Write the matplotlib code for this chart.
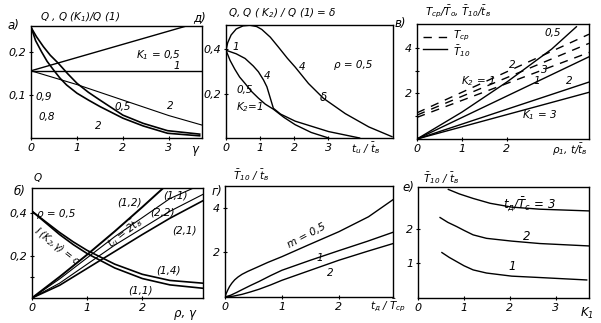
import numpy as np
import matplotlib
matplotlib.use("Agg")
import matplotlib.pyplot as plt

plt.rcParams["font.family"] = ["DejaVu Sans"]
plt.rcParams["font.style"] = "italic"
plt.rcParams["mathtext.fontset"] = "dejavusans"
plt.rcParams["mathtext.default"] = "it"
plt.rcParams["font.size"] = 7.5

W, H = 601, 323

# --- panel a: Q, Q(K1)/Q(1) vs gamma ---
a_rise_x = [0, 3.35]
a_rise_y = [0.156, 0.259]
a_flat_x = [0, 3.72]
a_flat_y = [0.156, 0.156]
a_fall_x = [0, 1.0, 2.0, 3.0, 3.72]
a_fall_y = [0.156, 0.124, 0.088, 0.052, 0.03]
a_c05_x = [0.01, 0.12, 0.27, 0.42, 0.59, 0.8, 1.0, 1.25, 1.5, 2.0, 2.44, 2.97, 3.67]
a_c05_y = [0.255, 0.235, 0.212, 0.192, 0.174, 0.149, 0.127, 0.106, 0.088, 0.053, 0.034, 0.017, 0.009]
a_c2_x = [0.01, 0.1, 0.23, 0.35, 0.49, 0.63, 0.775, 1.0, 1.25, 1.5, 2.0, 2.44, 2.97, 3.67]
a_c2_y = [0.255, 0.226, 0.20, 0.178, 0.158, 0.139, 0.123, 0.104, 0.088, 0.073, 0.046, 0.028, 0.011, 0.005]

# --- panel d: Q, Q(K2)/Q(1) = delta vs t_u/t_v ---
d_delta_x = [0, 0.05, 0.15, 0.3, 0.5, 0.7, 0.9, 1.05, 1.3, 1.54, 1.8, 2.03, 2.42, 2.86, 3.5, 4.19, 4.87]
d_delta_y = [0.396, 0.43, 0.465, 0.492, 0.506, 0.509, 0.503, 0.49, 0.455, 0.41, 0.36, 0.32, 0.246, 0.179, 0.11, 0.05, 0.006]
d_k4_x = [0, 0.3, 0.56, 0.8, 0.95, 1.1, 1.2, 1.3, 1.39, 1.6, 2.03, 3.01, 3.92]
d_k4_y = [0.396, 0.38, 0.359, 0.325, 0.299, 0.262, 0.231, 0.18, 0.134, 0.108, 0.076, 0.029, 0.0]
d_k1_x = [0, 0.12, 0.26, 0.4, 0.56, 0.75, 0.95, 1.15, 1.39, 1.7, 2.03, 2.5, 3.01]
d_k1_y = [0.396, 0.35, 0.31, 0.275, 0.246, 0.21, 0.18, 0.153, 0.13, 0.093, 0.06, 0.025, 0.0]

# --- panel v: T_sr/T_o, T10/t_v vs rho1, t/t_v ---
v_solid_k1 = ["0,5", "1", "2", "3"]
v_solid_x = [[0, 1.0, 2.0, 3.0, 3.55], [0, 3.83], [0, 3.83], [0, 3.83]]
v_solid_y = [[0, 1.18, 2.5, 3.95, 4.93], [0, 3.61], [0, 2.5], [0, 2.05]]
v_dash_x = [0, 3.83]
v_dash_y = [[1.15, 4.6], [1.05, 4.2], [0.95, 3.8]]

# --- panel b: Q vs rho, gamma ---
b_fall_x = [0, 0.25, 0.5, 0.75, 1.0, 1.5, 2.0, 2.5, 3.1]
b_fall_14 = [0.41, 0.36, 0.31, 0.265, 0.225, 0.16, 0.112, 0.083, 0.07]
b_fall_11 = [0.41, 0.355, 0.30, 0.252, 0.21, 0.142, 0.092, 0.062, 0.046]
b_rise_12_x = [0, 0.5, 1.0, 1.5, 2.0, 2.38]
b_rise_12_y = [0, 0.1, 0.205, 0.315, 0.43, 0.52]
b_rise_x = [0, 0.5, 1.0, 1.5, 2.0, 2.5, 3.1]
b_rise_11 = [0, 0.09, 0.19, 0.29, 0.38, 0.47, 0.54]
b_rise_22 = [0, 0.07, 0.16, 0.25, 0.33, 0.41, 0.49]
b_rise_21 = [0, 0.06, 0.14, 0.22, 0.30, 0.377, 0.46]

# --- panel g: T10/t_v vs t_d/T_sr ---
g_m05_x = [0, 0.02, 0.05, 0.08, 0.12, 0.17, 0.23, 0.3, 0.4, 0.55, 0.75, 1.0, 1.46, 2.0, 2.52, 2.98]
g_m05_y = [0, 0.15, 0.32, 0.47, 0.62, 0.77, 0.9, 1.02, 1.15, 1.32, 1.55, 1.81, 2.33, 2.93, 3.6, 4.42]
g_m1_x = [0, 0.1, 0.2, 0.3, 0.45, 0.6, 0.8, 1.0, 1.5, 2.0, 2.5, 2.98]
g_m1_y = [0, 0.08, 0.2, 0.33, 0.52, 0.7, 0.96, 1.2, 1.65, 2.08, 2.5, 2.93]
g_m2_x = [0, 0.15, 0.3, 0.45, 0.6, 0.8, 1.0, 1.5, 2.0, 2.5, 2.98]
g_m2_y = [0, 0.04, 0.12, 0.23, 0.35, 0.54, 0.75, 1.2, 1.65, 2.05, 2.42]

# --- panel e: T10/t_v vs K1 ---
e3_x = [0.66, 0.9, 1.2, 1.57, 2.04, 2.65, 3.73]
e3_y = [3.13, 3.0, 2.87, 2.73, 2.62, 2.56, 2.51]
e2_x = [0.48, 0.65, 0.84, 1.0, 1.2, 1.49, 2.04, 2.65, 3.73]
e2_y = [2.32, 2.18, 2.06, 1.95, 1.82, 1.72, 1.64, 1.57, 1.50]
e1_x = [0.52, 0.68, 0.84, 1.0, 1.2, 1.49, 2.04, 2.65, 3.67]
e1_y = [1.31, 1.17, 1.05, 0.93, 0.81, 0.72, 0.63, 0.59, 0.52]


def box(px_left, px_top, px_right, px_bottom):
    return [px_left / W, 1 - px_bottom / H, (px_right - px_left) / W, (px_bottom - px_top) / H]


def style(ax, xlim, ylim, xticks, xlabels, yticks, ylabels):
    ax.set_xlim(*xlim)
    ax.set_ylim(*ylim)
    ax.set_xticks(xticks)
    ax.set_xticklabels(xlabels)
    ax.set_yticks(yticks)
    ax.set_yticklabels(ylabels)
    ax.tick_params(direction="inout", length=3, width=0.8, pad=2, labelsize=8)
    for s in ax.spines.values():
        s.set_linewidth(1.0)


def ftext(px, py, s, **kw):
    fig.text(px / W, 1 - py / H, s, **kw)


lw = 1.0
fig = plt.figure(figsize=(W / 100, H / 100), dpi=100)

# panel a
ax = fig.add_axes(box(31, 26, 202, 138))
style(ax, (0, 3.72), (0, 0.26), [0, 1, 2, 3], ["0", "1", "2", "3"], [0.1, 0.2], ["0,1", "0,2"])
ax.plot(a_rise_x, a_rise_y, "k", lw=lw)
ax.plot(a_flat_x, a_flat_y, "k", lw=lw)
ax.plot(a_fall_x, a_fall_y, "k", lw=0.8)
ax.plot(a_c05_x, a_c05_y, "k", lw=1.2)
ax.plot(a_c2_x, a_c2_y, "k", lw=1.2)
ax.text(2.78, 0.193, "$K_1$ = 0,5", ha="center", va="center")
ax.text(3.17, 0.167, "1", ha="center", va="center")
ax.text(3.02, 0.074, "2", ha="center", va="center")
ax.text(2.0, 0.072, "0,5", ha="center", va="center")
ax.text(1.46, 0.028, "2", ha="center", va="center")
ax.text(0.28, 0.095, "0,9", ha="center", va="center")
ax.text(0.35, 0.049, "0,8", ha="center", va="center")
ftext(40, 17, "Q , Q (K$_1$)/Q (1)", ha="left", va="center")
ftext(13, 25, "а)", ha="center", va="center", fontsize=8.5)
ftext(195, 149, "γ", ha="center", va="center", fontsize=8.5)

# panel d
ax = fig.add_axes(box(226, 25, 393, 138))
style(ax, (0, 4.9), (0, 0.51), [0, 1, 2, 3], ["0", "1", "2", "3"], [0.2, 0.4], ["0,2", "0,4"])
ax.plot(d_delta_x, d_delta_y, "k", lw=lw)
ax.plot(d_k4_x, d_k4_y, "k", lw=lw)
ax.plot(d_k1_x, d_k1_y, "k", lw=lw)
ax.text(0.3, 0.41, "1", ha="center", va="center")
ax.text(1.2, 0.28, "4", ha="center", va="center")
ax.text(2.24, 0.32, "4", ha="center", va="center")
ax.text(2.85, 0.185, "δ", ha="center", va="center", fontsize=8.5)
ax.text(3.73, 0.33, "ρ = 0,5", ha="center", va="center")
ax.text(0.56, 0.216, "0,5", ha="center", va="center")
ax.text(0.7, 0.14, "$K_2$=1", ha="center", va="center")
ftext(228, 13, "Q, Q ( K$_2$) / Q (1) = δ", ha="left", va="center")
ftext(200, 18, "д)", ha="center", va="center", fontsize=8.5)
ftext(366, 148, r"$t_u$ / $\bar{t}_в$", ha="center", va="center")

# panel v
ax = fig.add_axes(box(417, 24, 589, 139))
style(ax, (0, 3.83), (0, 5.05), [0, 1, 2], ["0", "1", "2"], [2, 4], ["2", "4"])
ax.set_yticks([1, 3], minor=True)
ax.tick_params(which="minor", direction="inout", length=3, width=0.8)
for xs, ys in zip(v_solid_x, v_solid_y):
    ax.plot(xs, ys, "k", lw=lw)
for ys in v_dash_y:
    ax.plot(v_dash_x, ys, "k", lw=lw, dashes=(6, 5))
ax.plot([0.13, 0.66], [4.5, 4.5], "k", lw=lw, dashes=(6, 5))
ax.plot([0.13, 0.66], [3.95, 3.95], "k", lw=lw)
ax.text(0.8, 4.52, "$T_{ср}$", ha="left", va="center")
ax.text(0.8, 3.85, r"$\bar{T}_{10}$", ha="left", va="center")
ax.text(3.02, 4.65, v_solid_k1[0], ha="center", va="center")
ax.text(2.66, 2.55, v_solid_k1[1], ha="center", va="center")
ax.text(3.4, 2.55, v_solid_k1[2], ha="center", va="center")
ax.text(2.73, 1.05, "$K_1$ = " + v_solid_k1[3], ha="center", va="center")
ax.text(2.13, 3.25, "2", ha="center", va="center")
ax.text(2.84, 3.05, "3", ha="center", va="center")
ax.text(1.36, 2.55, "$K_2$ = 1", ha="center", va="center")
ftext(425, 12, r"$T_{ср}$/$\bar{T}_о$, $\bar{T}_{10}$/$\bar{t}_в$", ha="left", va="center")
ftext(400, 24, "в)", ha="center", va="center", fontsize=8.5)
ftext(570, 150, r"$ρ_1$, $t$/$\bar{t}_в$", ha="center", va="center")

# panel b
ax = fig.add_axes(box(32, 188, 203, 298))
style(ax, (0, 3.1), (0, 0.52), [0, 1, 2], ["0", "1", "2"], [0.2, 0.4], ["0,2", "0,4"])
ax.set_yticks([0.1], minor=True)
ax.tick_params(which="minor", direction="inout", length=3, width=0.8)
ax.plot(b_fall_x, b_fall_14, "k", lw=1.2)
ax.plot(b_fall_x, b_fall_11, "k", lw=1.2)
ax.plot(b_rise_12_x, b_rise_12_y, "k", lw=1.4)
ax.plot(b_rise_x, b_rise_11, "k", lw=0.8)
ax.plot(b_rise_x, b_rise_22, "k", lw=0.8)
ax.plot(b_rise_x, b_rise_21, "k", lw=1.2)
ax.text(0.44, 0.395, "ρ = 0,5", ha="center", va="center")
ax.text(0.45, 0.245, "I (K$_2$,γ) = c", ha="center", va="center", rotation=-38, fontsize=7)
ax.text(1.68, 0.31, r"$t_u$ = 2$\bar{t}_в$", ha="center", va="center", rotation=38)
ax.text(1.76, 0.45, "(1,2)", ha="center", va="center")
ax.text(2.6, 0.485, "(1,1)", ha="center", va="center")
ax.text(2.36, 0.405, "(2,2)", ha="center", va="center")
ax.text(2.76, 0.32, "(2,1)", ha="center", va="center")
ax.text(2.47, 0.13, "(1,4)", ha="center", va="center")
ax.text(1.96, 0.036, "(1,1)", ha="center", va="center")
ftext(38, 178, "Q", ha="center", va="center")
ftext(20, 192, "б)", ha="center", va="center", fontsize=8.5)
ftext(185, 313, "ρ, γ", ha="center", va="center", fontsize=8.5)

# panel g
ax = fig.add_axes(box(225, 186, 393, 297))
style(ax, (0, 2.95), (0, 4.98), [0, 1, 2], ["0", "1", "2"], [2, 4], ["2", "4"])
ax.plot(g_m05_x, g_m05_y, "k", lw=lw)
ax.plot(g_m1_x, g_m1_y, "k", lw=lw)
ax.plot(g_m2_x, g_m2_y, "k", lw=lw)
ax.text(1.44, 2.74, "m = 0,5", ha="center", va="center", rotation=28)
ax.text(1.67, 1.75, "1", ha="center", va="center")
ax.text(1.84, 1.08, "2", ha="center", va="center")
ftext(233, 175, r"$\bar{T}_{10}$ / $\bar{t}_в$", ha="left", va="center")
ftext(217, 192, "г)", ha="center", va="center", fontsize=8.5)
ftext(388, 306, r"$t_д$ / $\bar{T}_{ср}$", ha="center", va="center")

# panel e
ax = fig.add_axes(box(418, 187, 589, 298))
style(ax, (0, 3.72), (0, 3.2), [0, 1, 2, 3], ["0", "1", "2", "3"], [1, 2], ["1", "2"])
ax.plot(e3_x, e3_y, "k", lw=lw)
ax.plot(e2_x, e2_y, "k", lw=lw)
ax.plot(e1_x, e1_y, "k", lw=lw)
ax.text(2.43, 2.68, r"$t_д$/$\bar{T}_с$ = 3", ha="center", va="center", fontsize=8.5)
ax.text(2.37, 1.78, "2", ha="center", va="center", fontsize=8.5)
ax.text(2.04, 0.9, "1", ha="center", va="center", fontsize=8.5)
ftext(423, 178, r"$\bar{T}_{10}$ / $\bar{t}_в$", ha="left", va="center")
ftext(408, 188, "е)", ha="center", va="center", fontsize=8.5)
ftext(587, 313, "$K_1$", ha="center", va="center", fontsize=8.5)

fig.savefig("out.png", dpi=100)
